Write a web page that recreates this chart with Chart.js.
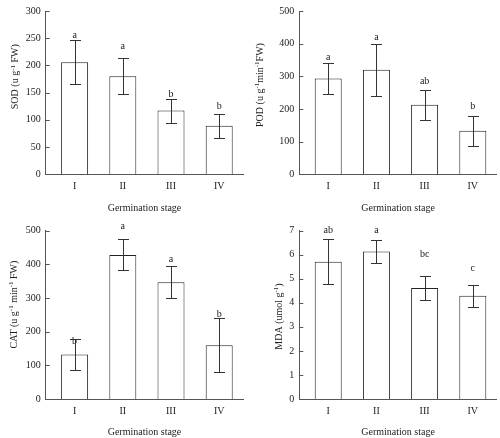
<!DOCTYPE html>
<html>
<head>
<meta charset="utf-8">
<script src="https://cdn.jsdelivr.net/npm/chart.js@4.4.0/dist/chart.umd.min.js"></script>
<style>
  html, body { margin: 0; padding: 0; background: #fff; }
  #wrap { position: relative; width: 500px; height: 438px; }
  .cell { position: absolute; width: 250px; height: 219px; }
</style>
</head>
<body>
<div id="wrap">
  <div class="cell" style="left:0;top:0"><canvas id="sod" width="250" height="219"></canvas></div>
  <div class="cell" style="left:250px;top:0"><canvas id="pod" width="250" height="219"></canvas></div>
  <div class="cell" style="left:0;top:219px"><canvas id="cat" width="250" height="219"></canvas></div>
  <div class="cell" style="left:250px;top:219px"><canvas id="mda" width="250" height="219"></canvas></div>
</div>
<script>
// germination stages
const stages = ['I', 'II', 'III', 'IV'];

// SOD (u g-1 FW)
const sodMean = [206, 180, 117, 89];
const sodSd = [41, 33, 22, 22];
const sodLetters = ['a', 'a', 'b', 'b'];
const sodLetterAt = [255, 235, 146, 125];

// POD (u g-1 min-1 FW)
const podMean = [293, 320, 213, 133];
const podSd = [47, 80, 46, 46];
const podLetters = ['a', 'a', 'ab', 'b'];
const podLetterAt = [359, 418, 283, 209];

// CAT (u g-1 min-1 FW)
const catMean = [132, 428, 347, 160];
const catSd = [47, 46, 47, 80];
const catLetters = ['b', 'a', 'a', 'b'];
const catLetterAt = [171, 513, 416, 251];

// MDA (umol g-1)
const mdaMean = [5.71, 6.14, 4.62, 4.29];
const mdaSd = [0.94, 0.47, 0.50, 0.47];
const mdaLetters = ['ab', 'a', 'bc', 'c'];
const mdaLetterAt = [7.0, 7.0, 6.0, 5.45];

const serif = "'Liberation Serif', 'Times New Roman', serif";
const textColor = '#222';
const axisColor = '#555';

// error bars, letters, inward y ticks and the y title with superscripts
const extrasPlugin = {
  id: 'extras',
  afterDatasetsDraw(chart, args, o) {
    const ctx = chart.ctx;
    const xs = chart.scales.x, ys = chart.scales.y;
    ctx.save();

    ctx.strokeStyle = axisColor;
    ctx.lineWidth = 1;
    ys.ticks.forEach(t => {
      const py = Math.round(ys.getPixelForValue(t.value)) + 0.5;
      ctx.beginPath();
      ctx.moveTo(xs.left, py);
      ctx.lineTo(xs.left + 4, py);
      ctx.stroke();
    });

    ctx.strokeStyle = '#333';
    o.mean.forEach((m, i) => {
      const px = Math.round(xs.getPixelForValue(i + 1)) + 0.5;
      const top = Math.round(ys.getPixelForValue(m + o.sd[i])) + 0.5;
      const bot = Math.round(ys.getPixelForValue(m - o.sd[i])) + 0.5;
      ctx.beginPath();
      ctx.moveTo(px, top); ctx.lineTo(px, bot);
      ctx.moveTo(px - 5.5, top); ctx.lineTo(px + 5.5, top);
      ctx.moveTo(px - 5.5, bot); ctx.lineTo(px + 5.5, bot);
      ctx.stroke();
    });

    ctx.fillStyle = textColor;
    ctx.font = '10px ' + serif;
    ctx.textAlign = 'center';
    ctx.textBaseline = 'middle';
    o.letters.forEach((l, i) => {
      ctx.fillText(l, xs.getPixelForValue(i + 1), ys.getPixelForValue(o.letterAt[i]));
    });

    // rotated y title
    const big = '10px ' + serif, small = '7px ' + serif;
    let total = 0;
    o.title.forEach(s => { ctx.font = s.sup ? small : big; total += ctx.measureText(s.t).width; });
    ctx.translate(o.titleX, o.titleY);
    ctx.rotate(-Math.PI / 2);
    ctx.textAlign = 'left';
    ctx.textBaseline = 'alphabetic';
    let cx = -total / 2;
    o.title.forEach(s => {
      ctx.font = s.sup ? small : big;
      ctx.fillText(s.t, cx, s.sup ? -3.5 : 0);
      cx += ctx.measureText(s.t).width;
    });
    ctx.restore();
  }
};

function makePanel(id, mean, sd, letters, letterAt, yMax, yStep, title, look) {
  new Chart(document.getElementById(id), {
    type: 'bar',
    data: {
      datasets: [{
        data: mean.map((v, i) => ({ x: i + 1, y: v })),
        backgroundColor: '#fff',
        borderColor: '#222',
        borderWidth: 1,
        categoryPercentage: 1,
        barPercentage: 0.56
      }]
    },
    options: {
      responsive: false,
      animation: false,
      devicePixelRatio: 1,
      layout: { padding: { left: 0, top: look.top, right: look.right, bottom: 0 } },
      scales: {
        x: {
          type: 'linear',
          offset: false,
          min: 0.4,
          max: 4.5,
          afterBuildTicks: s => { s.ticks = stages.map((_, i) => ({ value: i + 1 })); },
          afterFit: s => { s.height = look.xHeight; },
          grid: { display: false, offset: false, drawTicks: false },
          border: { display: true, color: axisColor, width: 1 },
          ticks: {
            color: textColor,
            font: { family: serif, size: 10 },
            padding: 6,
            maxRotation: 0,
            autoSkip: false,
            callback: v => stages[v - 1]
          },
          title: {
            display: true,
            text: 'Germination stage',
            color: textColor,
            font: { family: serif, size: 10 },
            padding: { top: 0, bottom: look.xTitlePad }
          }
        },
        y: {
          min: 0,
          max: yMax,
          afterFit: s => { s.width = look.left; },
          grid: { display: false, drawTicks: false },
          border: { display: true, color: axisColor, width: 1 },
          ticks: {
            stepSize: yStep,
            color: textColor,
            font: { family: serif, size: 10 },
            padding: 5
          }
        }
      },
      plugins: {
        legend: { display: false },
        tooltip: { enabled: false },
        extras: {
          mean: mean, sd: sd, letters: letters, letterAt: letterAt,
          title: title, titleX: look.titleX, titleY: look.titleY
        }
      }
    },
    plugins: [extrasPlugin]
  });
}

makePanel('sod', sodMean, sodSd, sodLetters, sodLetterAt, 300, 50,
  [{ t: 'SOD (u g' }, { t: '-1', sup: true }, { t: ' FW)' }],
  { left: 45.7, right: 6.7, top: 5.7, xHeight: 44.7, xTitlePad: 5, titleX: 18.3, titleY: 76.7 });

makePanel('pod', podMean, podSd, podLetters, podLetterAt, 500, 100,
  [{ t: 'POD (u g' }, { t: '-1', sup: true }, { t: 'min' }, { t: '-1', sup: true }, { t: 'FW)' }],
  { left: 49.3, right: 3.1, top: 5.7, xHeight: 44.7, xTitlePad: 5, titleX: 12.5, titleY: 85 });

makePanel('cat', catMean, catSd, catLetters, catLetterAt, 500, 100,
  [{ t: 'CAT (u g' }, { t: '-1', sup: true }, { t: ' min' }, { t: '-1', sup: true }, { t: ' FW)' }],
  { left: 45.7, right: 6.7, top: 11.7, xHeight: 39, xTitlePad: 0, titleX: 16.7, titleY: 85.5 });

makePanel('mda', mdaMean, mdaSd, mdaLetters, mdaLetterAt, 7, 1,
  [{ t: 'MDA (umol g' }, { t: '-1', sup: true }, { t: ')' }],
  { left: 49.3, right: 3.1, top: 11.7, xHeight: 39, xTitlePad: 0, titleX: 31.7, titleY: 97.5 });
</script>
</body>
</html>
